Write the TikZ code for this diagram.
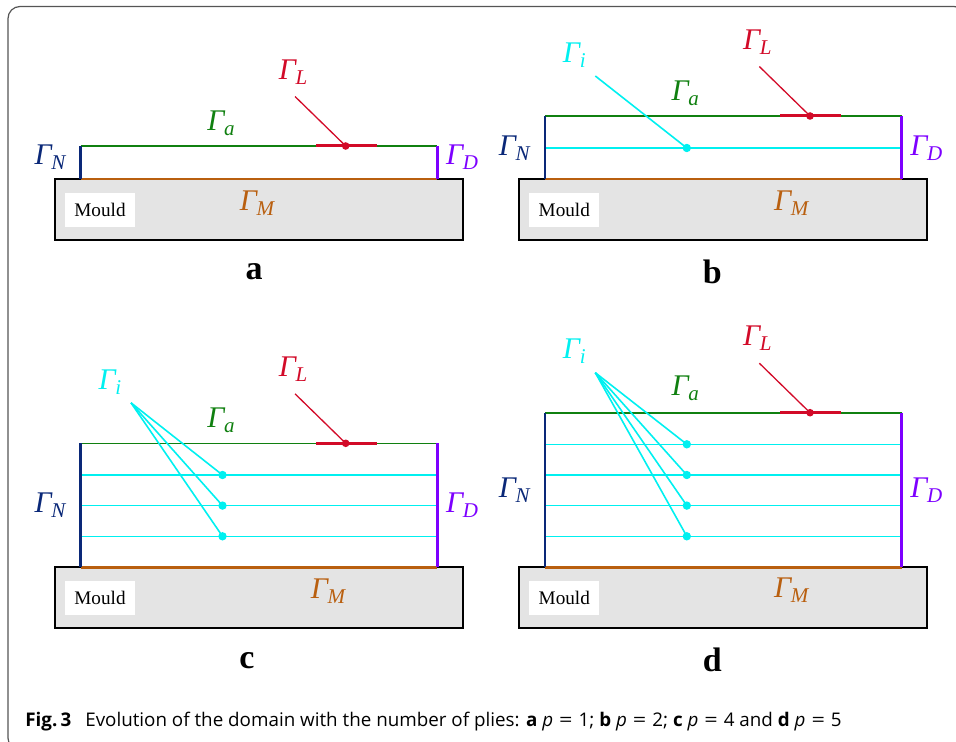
\documentclass[tikz,border=0pt]{standalone}
\usepackage{fontspec}
\setmainfont{Liberation Serif}
\newfontfamily\capfont{Open Sans}
\definecolor{gamgreen}{RGB}{16,128,16}
\definecolor{gamred}{RGB}{210,10,40}
\definecolor{gamnavy}{RGB}{10,40,120}
\definecolor{gamviolet}{RGB}{125,0,255}
\definecolor{gambrown}{RGB}{185,95,15}
\definecolor{gamcyan}{RGB}{0,240,240}
\definecolor{mouldgray}{RGB}{228,228,228}
\definecolor{framegray}{RGB}{85,85,85}
\newcommand{\gam}[1]{\textit{Γ}\kern-0.6pt\raisebox{-2.3pt}{\fontsize{10.5}{12}\selectfont\itshape #1}}
\newcommand{\peq}[1]{\textit{p}\hspace{3pt}\scalebox{1.25}[1]{=}\hspace{3pt}#1}
\begin{document}
\begin{tikzpicture}[x=0.5pt, y=-0.5pt,
  mould/.style={draw=black, fill=mouldgray, line width=1pt},
  mouldlbl/.style={fill=white, minimum width=35pt, minimum height=17pt, inner sep=0pt, font=\fontsize{9.6}{11}\selectfont},
  gamlbl/.style={inner sep=1pt, font=\fontsize{15}{18}\selectfont},
  panel/.style={font=\fontsize{17}{20}\selectfont\bfseries},
  topline/.style={gamgreen, line width=0.8pt},
  botline/.style={gambrown, line width=1.4pt},
  leftline/.style={gamnavy, line width=1.4pt},
  rightline/.style={gamviolet, line width=1.4pt},
  loadseg/.style={gamred, line width=1.5pt},
  loadlead/.style={gamred, line width=0.65pt},
  plyline/.style={gamcyan, line width=0.8pt}]
  \useasboundingbox (0,0) rectangle (956,742);
  \clip (0,0) rectangle (956,742);
  \draw[framegray, line width=0.6pt, rounded corners=6pt] (8,6.5) rectangle (966,750);
  % a: p = 1
  \begin{scope}
    \draw[mould] (55,179) rectangle (462.7,240);
    \node[mouldlbl] (aM) at (100,210) {Mould};
    \draw[topline] (80.7,146) -- (437.3,146);
    \draw[botline] (80.7,179) -- (437.3,179);
    \draw[leftline] (80.7,146) -- (80.7,179);
    \draw[rightline] (437.3,146) -- (437.3,179);
    \draw[loadseg] (316,146) -- (376.7,146);
    \coordinate (aLd) at (345.7,146);
    \coordinate (aLs) at (295,96.5);
    \draw[loadlead] (aLs) -- (aLd);
    \fill[gamred] (aLd) circle (1.9pt);
    \node[gamlbl, gamred] (aGL) at (293,72) {\gam{L}};
    \node[gamlbl, gamgreen] (aGa) at (221,123) {\gam{a}};
    \node[gamlbl, gamnavy] (aGN) at (50,157) {\gam{N}};
    \node[gamlbl, gamviolet] (aGD) at (462,157) {\gam{D}};
    \node[gamlbl, gambrown] (aGM) at (257,203) {\gam{M}};
    \node[panel] (alab) at (254,272) {a};
  \end{scope}
  % b: p = 2
  \begin{scope}[shift={(464.3,0)}]
    \draw[mould] (55,179) rectangle (462.7,240);
    \node[mouldlbl] (bM) at (100,210) {Mould};
    \draw[plyline] (80.7,148) -- (437.3,148);
    \draw[topline] (80.7,116) -- (437.3,116);
    \draw[botline] (80.7,179) -- (437.3,179);
    \draw[leftline] (80.7,116) -- (80.7,179);
    \draw[rightline] (437.3,116) -- (437.3,179);
    \draw[loadseg] (316,116) -- (376.7,116);
    \coordinate (bLd) at (345.7,116);
    \coordinate (bLs) at (295,66.5);
    \draw[loadlead] (bLs) -- (bLd);
    \fill[gamred] (bLd) circle (1.9pt);
    \coordinate (bIs) at (131,76);
    \coordinate (bI1) at (222.5,148);
    \draw[plyline] (bIs) -- (bI1);
    \fill[gamcyan] (bI1) circle (2.1pt);
    \node[gamlbl, gamcyan] (bGi) at (110,55) {\gam{i}};
    \node[gamlbl, gamred] (bGL) at (293,42) {\gam{L}};
    \node[gamlbl, gamgreen] (bGa) at (221,93) {\gam{a}};
    \node[gamlbl, gamnavy] (bGN) at (50,148) {\gam{N}};
    \node[gamlbl, gamviolet] (bGD) at (462,148) {\gam{D}};
    \node[gamlbl, gambrown] (bGM) at (327,203) {\gam{M}};
    \node[panel] (blab) at (248,272) {b};
  \end{scope}
  % c: p = 4
  \begin{scope}[shift={(0,388.3)}]
    \draw[mould] (55,179) rectangle (462.7,240);
    \node[mouldlbl] (cM) at (100,210) {Mould};
    \draw[plyline] (80.7,148) -- (437.3,148);
    \draw[plyline] (80.7,117.3) -- (437.3,117.3);
    \draw[plyline] (80.7,86.7) -- (437.3,86.7);
    \draw[topline] (80.7,55) -- (437.3,55);
    \draw[botline] (80.7,179) -- (437.3,179);
    \draw[leftline] (80.7,55) -- (80.7,179);
    \draw[rightline] (437.3,55) -- (437.3,179);
    \draw[loadseg] (316,55) -- (376.7,55);
    \coordinate (cLd) at (345.7,55);
    \coordinate (cLs) at (295,5.5);
    \draw[loadlead] (cLs) -- (cLd);
    \fill[gamred] (cLd) circle (1.9pt);
    \coordinate (cIs) at (131,14.5);
    \coordinate (cI1) at (222.5,86.7);
    \coordinate (cI2) at (222.5,117.3);
    \coordinate (cI3) at (222.5,148);
    \draw[plyline] (cIs) -- (cI1);
    \draw[plyline] (cIs) -- (cI2);
    \draw[plyline] (cIs) -- (cI3);
    \fill[gamcyan] (cI1) circle (2.1pt);
    \fill[gamcyan] (cI2) circle (2.1pt);
    \fill[gamcyan] (cI3) circle (2.1pt);
    \node[gamlbl, gamcyan] (cGi) at (110,-6) {\gam{i}};
    \node[gamlbl, gamred] (cGL) at (293,-19) {\gam{L}};
    \node[gamlbl, gamgreen] (cGa) at (221,32) {\gam{a}};
    \node[gamlbl, gamnavy] (cGN) at (50,117) {\gam{N}};
    \node[gamlbl, gamviolet] (cGD) at (462,117) {\gam{D}};
    \node[gamlbl, gambrown] (cGM) at (328,203) {\gam{M}};
    \node[panel] (clab) at (247,272) {c};
  \end{scope}
  % d: p = 5
  \begin{scope}[shift={(464.3,388.3)}]
    \draw[mould] (55,179) rectangle (462.7,240);
    \node[mouldlbl] (dM) at (100,210) {Mould};
    \draw[plyline] (80.7,148) -- (437.3,148);
    \draw[plyline] (80.7,117.3) -- (437.3,117.3);
    \draw[plyline] (80.7,86.7) -- (437.3,86.7);
    \draw[plyline] (80.7,56) -- (437.3,56);
    \draw[topline] (80.7,24.4) -- (437.3,24.4);
    \draw[botline] (80.7,179) -- (437.3,179);
    \draw[leftline] (80.7,24.4) -- (80.7,179);
    \draw[rightline] (437.3,24.4) -- (437.3,179);
    \draw[loadseg] (316,24.4) -- (376.7,24.4);
    \coordinate (dLd) at (345.7,24.4);
    \coordinate (dLs) at (295,-25.1);
    \draw[loadlead] (dLs) -- (dLd);
    \fill[gamred] (dLd) circle (1.9pt);
    \coordinate (dIs) at (131,-15.6);
    \coordinate (dI1) at (222.5,56);
    \coordinate (dI2) at (222.5,86.7);
    \coordinate (dI3) at (222.5,117.3);
    \coordinate (dI4) at (222.5,148);
    \draw[plyline] (dIs) -- (dI1);
    \draw[plyline] (dIs) -- (dI2);
    \draw[plyline] (dIs) -- (dI3);
    \draw[plyline] (dIs) -- (dI4);
    \fill[gamcyan] (dI1) circle (2.1pt);
    \fill[gamcyan] (dI2) circle (2.1pt);
    \fill[gamcyan] (dI3) circle (2.1pt);
    \fill[gamcyan] (dI4) circle (2.1pt);
    \node[gamlbl, gamcyan] (dGi) at (110,-37) {\gam{i}};
    \node[gamlbl, gamred] (dGL) at (293,-50) {\gam{L}};
    \node[gamlbl, gamgreen] (dGa) at (221,0) {\gam{a}};
    \node[gamlbl, gamnavy] (dGN) at (50,101.7) {\gam{N}};
    \node[gamlbl, gamviolet] (dGD) at (462,101.7) {\gam{D}};
    \node[gamlbl, gambrown] (dGM) at (327,201.7) {\gam{M}};
    \node[panel] (dlab) at (248,272) {d};
  \end{scope}
  \node[anchor=base west, inner sep=0pt, font=\capfont\fontsize{9.4}{11}\selectfont] (cap) at (25,726.5)
    {\textbf{Fig.\,3}\hspace{7pt}Evolution of the domain with the number of plies: \textbf{a} \peq{1}; \textbf{b} \peq{2}; \textbf{c} \peq{4} and \textbf{d} \peq{5}};
\end{tikzpicture}
\end{document}
